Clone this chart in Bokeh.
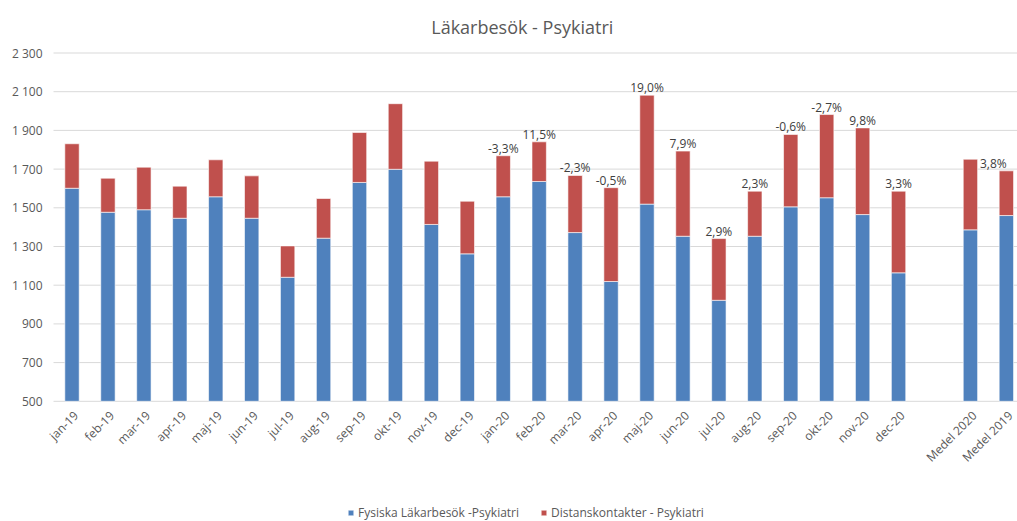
import math
import numpy as np
from bokeh.plotting import figure
from bokeh.models import (ColumnDataSource, Range1d, LabelSet, Label, Legend,
                          LegendItem)
from bokeh.core.properties import value
from bokeh.embed import file_html
from bokeh.resources import INLINE

categories = ["jan-19", "feb-19", "mar-19", "apr-19", "maj-19", "jun-19",
              "jul-19", "aug-19", "sep-19", "okt-19", "nov-19", "dec-19",
              "jan-20", "feb-20", "mar-20", "apr-20", "maj-20", "jun-20",
              "jul-20", "aug-20", "sep-20", "okt-20", "nov-20", "dec-20",
              "", "Medel 2020", "Medel 2019"]

fysiska = [1601, 1477, 1490, 1446, 1557, 1446, 1141, 1343, 1631, 1699, 1414, 1262,
           1557, 1636, 1372, 1119, 1519, 1353, 1022, 1353, 1505, 1552, 1465, 1164,
           None, 1386, 1460]

distans = [230, 176, 220, 166, 191, 219, 162, 205, 258, 339, 327, 272,
           212, 205, 295, 485, 563, 440, 319, 233, 374, 430, 448, 422,
           None, 365, 231]

pct_labels = ["", "", "", "", "", "", "", "", "", "", "", "",
              "-3,3%", "11,5%", "-2,3%", "-0,5%", "19,0%", "7,9%",
              "2,9%", "2,3%", "-0,6%", "-2,7%", "9,8%", "3,3%",
              "", "", "3,8%"]

y_ticks = [500, 700, 900, 1100, 1300, 1500, 1700, 1900, 2100, 2300]

series_names = ["Fysiska Läkarbesök -Psykiatri", "Distanskontakter - Psykiatri"]
title_text = "Läkarbesök - Psykiatri"

BLUE = "#4F81BD"
RED = "#C0504D"
GREY = "#595959"
FONT = "Open Sans"

W, H = 1017, 521
LEFT = 53            # where the plot area starts (px from left)
TOP_PX = 52.5        # where the top tick sits (px from top)
BOT_PX = 400.8       # where the bottom tick sits (px from top)
X_LO, X_HI = -0.515, 26.31   # category span of the plot area

xs = list(range(len(categories)))
fys = np.array([np.nan if v is None else v for v in fysiska], dtype=float)
dis = np.array([np.nan if v is None else v for v in distans], dtype=float)
tot = fys + dis
base = y_ticks[0]

# The frame covers the whole canvas so that no text is clipped; ranges are
# set so that the plot area and ticks land where the reference draws them.
y_min, y_max = y_ticks[0], y_ticks[-1]
ppu = (BOT_PX - TOP_PX) / (y_max - y_min)
y_end = y_max + TOP_PX / ppu
y_start = y_min - (H - BOT_PX) / ppu
xpu = (W - LEFT) / (X_HI - X_LO)
x_start = X_LO - LEFT / xpu

src = ColumnDataSource(dict(x=xs, fys=fys, tot=tot, base=[base] * len(xs)))

p = figure(width=W, height=H, output_backend="svg", toolbar_location=None,
           x_range=Range1d(x_start, X_HI), y_range=Range1d(y_start, y_end),
           min_border_left=0, min_border_right=0, min_border_top=0,
           min_border_bottom=0)
p.outline_line_color = None
p.xaxis.visible = False
p.yaxis.visible = False
p.xgrid.visible = False
p.ygrid.visible = False

# horizontal gridlines over the plot area
gsrc = ColumnDataSource(dict(y=y_ticks, x0=[X_LO] * len(y_ticks),
                             x1=[X_HI] * len(y_ticks)))
p.segment(x0="x0", x1="x1", y0="y", y1="y", line_color="#D9D9D9",
          line_width=1, source=gsrc)

r1 = p.vbar(x="x", bottom="base", top="fys", width=0.4, fill_color=BLUE,
            line_color="white", line_width=0.6, source=src)
r2 = p.vbar(x="x", bottom="fys", top="tot", width=0.4, fill_color=RED,
            line_color="white", line_width=0.6, source=src)

# value tick labels
ysrc = ColumnDataSource(dict(x=[X_LO] * len(y_ticks), y=y_ticks,
                             t=[f"{v:,}".replace(",", " ") for v in y_ticks]))
p.add_layout(LabelSet(x="x", y="y", text="t", source=ysrc, x_offset=-11,
                      text_align="right", text_baseline="middle",
                      text_font=value(FONT), text_font_size="12px",
                      text_color=GREY))

# title
p.add_layout(Label(x=12.53, y=y_max + (TOP_PX - 26) / ppu, text=title_text,
                   text_align="center", text_baseline="middle", text_font=FONT,
                   text_font_size="18px", text_color=GREY))

# category labels under the baseline
csrc = ColumnDataSource(dict(x=xs, y=[base] * len(xs), t=categories))
p.add_layout(LabelSet(x="x", y="y", text="t", source=csrc, angle=math.pi / 4,
                      x_offset=4, y_offset=-12, text_align="right",
                      text_baseline="middle", text_font=value(FONT),
                      text_font_size="12px", text_color=GREY))

# data labels
lx, ly, lt, lo = [], [], [], []
for i, t in enumerate(pct_labels):
    if t:
        lx.append(i)
        ly.append(tot[i])
        lt.append(t)
        lo.append(-13 if i == len(categories) - 1 else 0)
lsrc = ColumnDataSource(dict(x=lx, y=ly, t=lt, xo=lo))
p.add_layout(LabelSet(x="x", y="y", text="t", source=lsrc, x_offset="xo",
                      y_offset=3, text_align="center", text_baseline="alphabetic",
                      text_font=value(FONT), text_font_size="12px",
                      text_color="#404040"))

# legend
legend = Legend(items=[LegendItem(label=series_names[0], renderers=[r1]),
                       LegendItem(label=series_names[1], renderers=[r2])],
                orientation="horizontal", location=(294 + LEFT, 0),
                glyph_width=7, glyph_height=7, label_height=16,
                label_text_font=FONT, label_text_font_size="12px",
                label_text_color=GREY, border_line_color=None,
                background_fill_alpha=0, padding=0, margin=0, spacing=21,
                label_standoff=4)
p.add_layout(legend, "center")

open("out.html", "w").write(file_html(p, INLINE))
